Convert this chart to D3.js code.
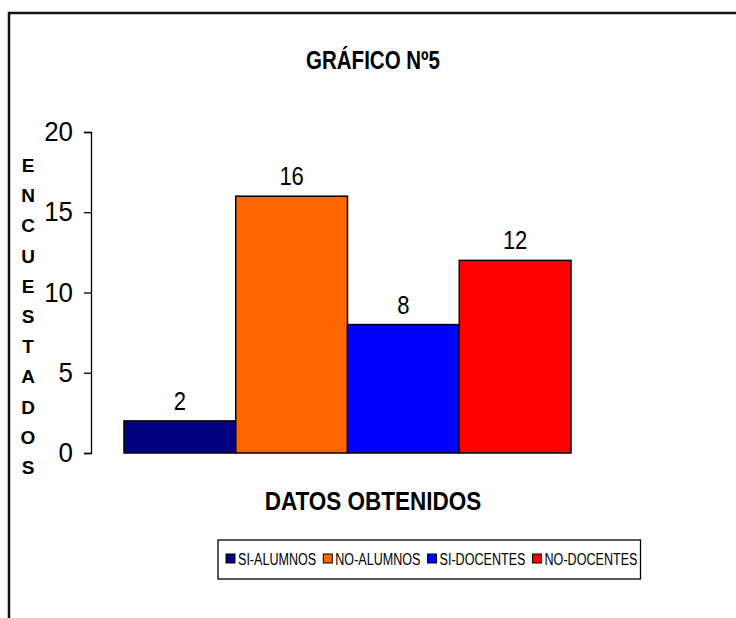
<!DOCTYPE html>
<html>
<head>
<meta charset="utf-8">
<script src="https://cdn.jsdelivr.net/npm/d3@7"></script>
<style>
  body { margin: 0; background: #fff; }
  text { font-family: "Liberation Sans", Arial, sans-serif; }
</style>
</head>
<body>
<div id="chart"></div>
<script>
var categories = ["SI-ALUMNOS", "NO-ALUMNOS", "SI-DOCENTES", "NO-DOCENTES"];
var values = [2, 16, 8, 12];
var colors = ["#000080", "#FF6600", "#0000FF", "#FF0000"];
var yTicks = [0, 5, 10, 15, 20];
var yTitle = "ENCUESTADOS";

var width = 736, height = 618;

// no narrow font installed, so squeeze text horizontally around its anchor
function narrow(sel, sx) {
  sel.each(function() {
    var t = d3.select(this);
    var x = +t.attr("x") || 0, y = +t.attr("y") || 0;
    t.attr("x", 0).attr("y", 0)
      .attr("transform", "translate(" + x + "," + y + ") scale(" + sx + ",1)");
  });
}

var svg = d3.select("#chart").append("svg")
  .attr("width", width)
  .attr("height", height);

// outer frame, runs off right and bottom edges
svg.append("rect")
  .attr("x", 9).attr("y", 13)
  .attr("width", 800).attr("height", 700)
  .attr("fill", "none")
  .attr("stroke", "#111")
  .attr("stroke-width", 2.5);

svg.append("text")
  .attr("x", 373).attr("y", 69)
  .attr("text-anchor", "middle")
  .attr("font-weight", "bold")
  .attr("font-size", 25)
  .text("GRÁFICO Nº5")
  .call(narrow, 0.82);

var y = d3.scaleLinear().domain([0, 20]).range([453, 132]);
var x = d3.scaleBand().domain(categories).range([124, 571]).padding(0);

var yAxis = svg.append("g")
  .attr("transform", "translate(91,0)")
  .call(d3.axisLeft(y).tickValues(yTicks).tickSize(7).tickPadding(11));
yAxis.select(".domain").attr("stroke", "#000").attr("stroke-width", 1.3);
yAxis.selectAll(".tick line").attr("stroke", "#000").attr("stroke-width", 1.3);
yAxis.selectAll(".tick text")
  .attr("font-size", 27)
  .attr("fill", "#000")
  .style("font-family", "'Liberation Sans', Arial, sans-serif")
  .call(narrow, 0.96);

svg.selectAll("rect.bar")
  .data(values)
  .enter().append("rect")
  .attr("class", "bar")
  .attr("x", function(d, i) { return x(categories[i]); })
  .attr("y", function(d) { return y(d); })
  .attr("width", x.bandwidth())
  .attr("height", function(d) { return y(0) - y(d); })
  .attr("fill", function(d, i) { return colors[i]; })
  .attr("stroke", "#000")
  .attr("stroke-width", 1.5);

svg.selectAll("text.val")
  .data(values)
  .enter().append("text")
  .attr("class", "val")
  .attr("x", function(d, i) { return x(categories[i]) + x.bandwidth() / 2; })
  .attr("y", function(d) { return y(d) - 11; })
  .attr("text-anchor", "middle")
  .attr("font-size", 25)
  .text(function(d) { return d; })
  .call(narrow, 0.88);

// vertical stacked y title
svg.selectAll("text.ylet")
  .data(yTitle.split(""))
  .enter().append("text")
  .attr("class", "ylet")
  .attr("x", 28)
  .attr("y", function(d, i) { return 172 + i * 30.2; })
  .attr("text-anchor", "middle")
  .attr("font-weight", "bold")
  .attr("font-size", 19)
  .text(function(d) { return d; });

svg.append("text")
  .attr("x", 373).attr("y", 510)
  .attr("text-anchor", "middle")
  .attr("font-weight", "bold")
  .attr("font-size", 25)
  .text("DATOS OBTENIDOS")
  .call(narrow, 0.9);

// legend
var legend = svg.append("g");
var legendBox = legend.append("rect")
  .attr("y", 540).attr("height", 39)
  .attr("fill", "#fff")
  .attr("stroke", "#000")
  .attr("stroke-width", 1.3);

var sx = 0.74;
var lx = 226;
categories.forEach(function(c, i) {
  legend.append("rect")
    .attr("x", lx).attr("y", 554)
    .attr("width", 9).attr("height", 9)
    .attr("fill", colors[i])
    .attr("stroke", "#000")
    .attr("stroke-width", 1);
  var t = legend.append("text")
    .attr("x", lx + 12).attr("y", 565)
    .attr("font-size", 17)
    .text(c);
  var w = t.node().getComputedTextLength() * sx;
  t.call(narrow, sx);
  lx += 12 + w + 7;
});
legendBox.attr("x", 218).attr("width", lx - 218 - 4);
</script>
</body>
</html>
